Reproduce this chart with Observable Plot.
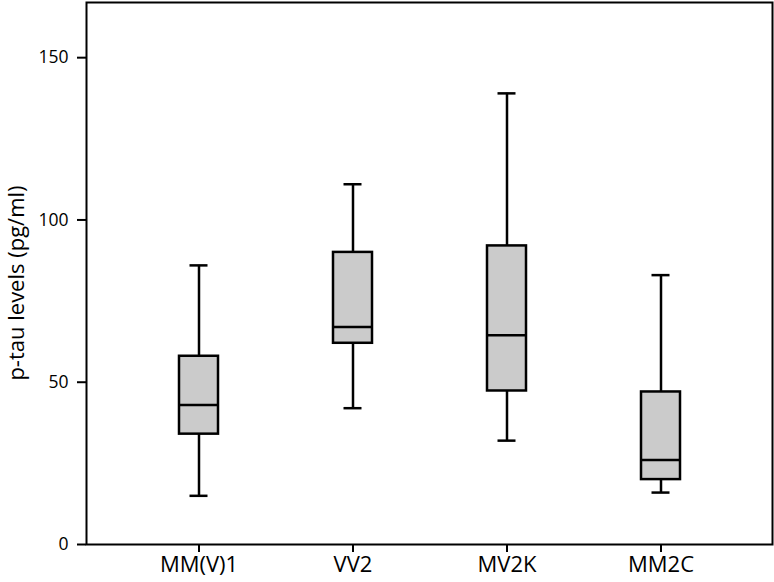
<!DOCTYPE html>
<html><head><meta charset="utf-8">
<script src="https://cdn.jsdelivr.net/npm/d3@7"></script>
<script src="https://cdn.jsdelivr.net/npm/@observablehq/plot@0.6"></script>
<style>body{margin:0;background:#fff}</style>
</head><body><div id="chart"></div>
<script>
const groups = ["MM(V)1", "VV2", "MV2K", "MM2C"];
const whiskerLow = [15, 42, 32, 16];
const q1 = [34, 62, 47.3, 20];
const median = [43, 67, 64.5, 26];
const q3 = [58, 90, 92, 47];
const whiskerHigh = [86, 111, 139, 83];
const yTicks = [0, 50, 100, 150];
const yLabel = "p-tau levels (pg/ml)";

const data = groups.map((g, i) => ({group: g, lo: whiskerLow[i], q1: q1[i], med: median[i], q3: q3[i], hi: whiskerHigh[i]}));

const font = "'Open Sans', sans-serif";
const chart = Plot.plot({
  width: 774,
  height: 582,
  marginLeft: 86,
  marginRight: 2,
  marginTop: 2,
  marginBottom: 38,
  style: {fontFamily: font, background: "#fff", color: "#000"},
  x: {type: "band", domain: groups, paddingInner: 0.7476, paddingOuter: 0.594, label: null},
  y: {domain: [0, 167], label: null},
  marks: [
    Plot.ruleX(data, {x: "group", y1: "lo", y2: "hi", stroke: "#000", strokeWidth: 2.5}),
    Plot.tickY(data, {x: "group", y: "lo", insetLeft: 10.5, insetRight: 10.5, stroke: "#000", strokeWidth: 2.5}),
    Plot.tickY(data, {x: "group", y: "hi", insetLeft: 10.5, insetRight: 10.5, stroke: "#000", strokeWidth: 2.5}),
    Plot.barY(data, {x: "group", y1: "q1", y2: "q3", fill: "#cbcbcb", stroke: "#000", strokeWidth: 2.5}),
    Plot.tickY(data, {x: "group", y: "med", stroke: "#000", strokeWidth: 2.5}),
    Plot.frame({stroke: "#000", strokeWidth: 2}),
    Plot.axisY({ticks: yTicks, tickSize: 9, tickPadding: 9, fontSize: 17.5, stroke: "#000", strokeWidth: 2, label: null}),
    Plot.axisX({tickSize: 8, tickPadding: 4, fontSize: 22, stroke: "#000", strokeWidth: 2, label: null}),
    Plot.text([yLabel], {frameAnchor: "left", textAnchor: "middle", dx: -70, dy: 9.5, rotate: -90, fontSize: 22, fill: "#000"})
  ]
});
document.getElementById("chart").appendChild(chart);
</script>
</body></html>
